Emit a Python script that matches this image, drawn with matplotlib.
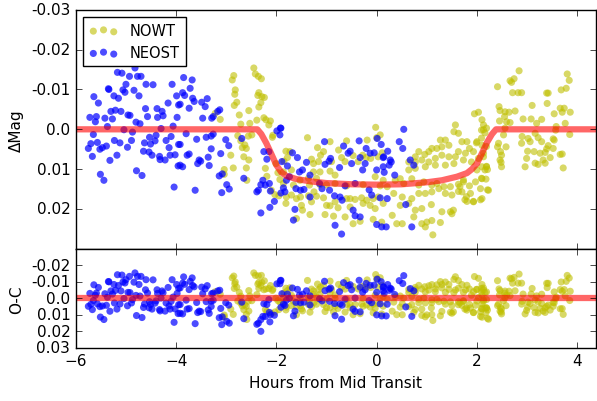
import numpy as np
import matplotlib
matplotlib.use('Agg')
import matplotlib.pyplot as plt

# Light curve points: (hours from mid transit, delta mag)
nowt = np.array([
    (-2.45, -0.0154), (-2.42, -0.0139), (-2.36, -0.0133), (-2.30, -0.0127), (-2.85, -0.0135), (-2.88, -0.0124),
    (-2.82, -0.0099), (-2.83, -0.0088), (-2.79, -0.0068), (-2.84, -0.0060), (-2.35, -0.0092), (-2.37, -0.0085),
    (-2.29, -0.0082), (-2.24, -0.0080), (-2.31, -0.0067), (-2.35, -0.0056), (-3.22, -0.0040), (-2.74, -0.0036),
    (-2.55, -0.0047), (-3.12, -0.0025), (-2.39, -0.0023), (-2.25, -0.0029), (-2.21, -0.0024), (-2.12, -0.0021),
    (-2.15, -0.0011), (-2.71, -0.0013), (-2.53, -0.0015), (-2.49, 0.0014), (-2.56, 0.0017), (-2.77, 0.0016),
    (-2.71, 0.0029), (-2.63, 0.0039), (-2.68, 0.0046), (-2.60, 0.0048), (-2.07, 0.0015), (-2.08, 0.0020),
    (-2.91, 0.0065), (-2.65, 0.0069), (-2.55, 0.0077), (-2.60, 0.0097), (-2.86, 0.0097), (-3.04, 0.0101),
    (-3.04, 0.0113), (-2.59, 0.0128), (-2.01, 0.0086), (-1.97, 0.0109), (-2.10, 0.0153), (-2.03, 0.0164),
    (-1.95, 0.0167), (-2.19, 0.0118), (-1.93, 0.0126), (-2.22, 0.0098),
    (-1.81, 0.0055), (-1.73, 0.0056), (-1.78, 0.0071), (-1.85, 0.0080), (-1.38, 0.0021), (-1.18, 0.0046),
    (-1.06, 0.0056), (-1.12, 0.0065), (-0.93, 0.0031), (-0.60, 0.0029), (-0.76, 0.0052), (-0.19, 0.0027),
    (-0.02, -0.0005), (0.00, 0.0021), (0.07, 0.0014), (-0.28, 0.0065), (-0.21, 0.0071), (-0.12, 0.0073),
    (0.03, 0.0069), (0.11, 0.0059), (-1.30, 0.0075), (-1.26, 0.0086), (-1.16, 0.0081), (-0.90, 0.0081),
    (-0.70, 0.0071), (-0.63, 0.0081), (-0.37, 0.0081), (-0.47, 0.0066), (-1.86, 0.0107), (-1.70, 0.0102),
    (-1.26, 0.0107), (-1.13, 0.0107), (-0.93, 0.0105), (-0.83, 0.0115), (-1.20, 0.0123), (-1.36, 0.0123),
    (-1.53, 0.0128), (-1.86, 0.0136), (-1.13, 0.0139), (-1.00, 0.0139), (-0.83, 0.0136), (-0.60, 0.0142),
    (-0.27, 0.0139), (-0.03, 0.0119), (0.13, 0.0128), (0.07, 0.0142), (-1.34, 0.0140), (-1.66, 0.0140),
    (-1.80, 0.0170), (-1.70, 0.0165), (-1.60, 0.0174), (-1.52, 0.0170), (-1.36, 0.0167), (-1.25, 0.0157),
    (-1.20, 0.0168), (-1.06, 0.0172), (-1.00, 0.0191), (-0.93, 0.0192), (-0.83, 0.0182), (-0.77, 0.0197),
    (-0.60, 0.0174), (-0.53, 0.0174), (-0.43, 0.0176), (-0.30, 0.0172), (-0.20, 0.0178), (-0.07, 0.0174),
    (0.03, 0.0170), (0.13, 0.0186), (-1.81, 0.0186), (-1.50, 0.0191), (-1.30, 0.0182), (-0.53, 0.0195),
    (-0.27, 0.0186), (-0.13, 0.0191), (-0.03, 0.0199), (-1.60, 0.0224), (-1.48, 0.0203), (-1.33, 0.0214),
    (-1.03, 0.0214), (-0.86, 0.0218), (-0.47, 0.0237), (-0.33, 0.0231), (-0.07, 0.0226), (0.10, 0.0233),
    (-0.63, 0.0220),
    (1.95, -0.0039), (2.03, -0.0043), (2.10, -0.0024), (2.13, -0.0011), (2.09, 0.0002), (1.57, -0.0011),
    (1.54, 0.0006), (1.63, 0.0010), (1.27, 0.0027), (1.37, 0.0027), (1.44, 0.0040), (1.30, 0.0044),
    (1.20, 0.0048), (1.10, 0.0048), (1.04, 0.0056), (0.96, 0.0063), (0.84, 0.0056), (0.77, 0.0069),
    (1.70, 0.0031), (1.80, 0.0031), (1.85, 0.0048), (2.00, 0.0031), (2.10, 0.0040), (1.93, 0.0056),
    (1.77, 0.0060), (1.63, 0.0056), (1.57, 0.0069), (1.44, 0.0069), (1.30, 0.0065), (1.17, 0.0073),
    (1.04, 0.0082), (0.90, 0.0077), (0.77, 0.0082), (0.64, 0.0082), (0.64, 0.0102), (0.77, 0.0098),
    (0.97, 0.0094), (1.17, 0.0090), (1.37, 0.0090), (1.54, 0.0086), (1.73, 0.0077), (1.89, 0.0082),
    (2.03, 0.0073), (2.13, 0.0069), (2.10, 0.0094), (2.00, 0.0102), (0.37, 0.0128), (0.47, 0.0124),
    (0.54, 0.0136), (0.70, 0.0124), (0.84, 0.0140), (0.94, 0.0132), (1.10, 0.0140), (1.20, 0.0136),
    (1.34, 0.0144), (1.47, 0.0144), (1.63, 0.0138), (1.73, 0.0132), (1.85, 0.0142), (1.97, 0.0132),
    (2.10, 0.0124), (2.07, 0.0149), (1.87, 0.0161), (1.70, 0.0157), (1.50, 0.0165), (1.37, 0.0161),
    (1.24, 0.0149), (1.10, 0.0157), (0.97, 0.0161), (0.84, 0.0161), (0.70, 0.0174), (0.51, 0.0170),
    (0.34, 0.0161), (0.21, 0.0144), (0.47, 0.0191), (0.64, 0.0186), (0.77, 0.0203), (0.90, 0.0199),
    (1.09, 0.0189), (1.30, 0.0207), (1.47, 0.0207), (1.80, 0.0181), (1.93, 0.0182), (2.10, 0.0174),
    (0.31, 0.0216), (0.40, 0.0237), (0.51, 0.0237), (0.74, 0.0220), (0.90, 0.0237), (1.00, 0.0233),
    (1.10, 0.0229), (0.97, 0.0245), (1.12, 0.0265), (1.50, 0.0212), (1.27, 0.0234),
    (2.84, -0.0147), (2.66, -0.0122), (2.74, -0.0127), (2.69, -0.0118), (2.41, -0.0107), (2.71, -0.0092),
    (2.82, -0.0092), (2.89, -0.0092), (3.39, -0.0091), (3.42, -0.0091), (3.80, -0.0139), (3.84, -0.0123),
    (3.78, -0.0103), (3.68, -0.0099), (3.40, -0.0065), (3.10, -0.0060), (2.44, -0.0057), (2.46, -0.0047),
    (2.56, -0.0044), (2.64, -0.0043), (2.76, -0.0046), (2.55, -0.0032), (2.45, -0.0021), (2.59, -0.0019),
    (2.66, -0.0017), (2.92, -0.0026), (3.08, -0.0026), (3.29, -0.0025), (3.19, -0.0015), (3.54, -0.0039),
    (3.66, -0.0053), (3.74, -0.0053), (3.70, -0.0043), (3.86, -0.0043), (3.76, -0.0015), (3.58, -0.0007),
    (3.57, 0.0002), (3.85, 0.0013), (2.19, -0.0003), (2.56, -0.0003), (2.53, 0.0014), (2.90, 0.0018),
    (3.02, 0.0023), (3.16, 0.0010), (3.22, 0.0021), (3.52, 0.0024), (2.89, 0.0035), (3.06, 0.0031),
    (3.29, 0.0031), (3.42, 0.0041), (3.54, 0.0027), (2.43, 0.0035), (2.41, 0.0044), (2.58, 0.0044),
    (3.01, 0.0055), (3.14, 0.0056), (3.26, 0.0060), (3.36, 0.0058), (3.39, 0.0049), (3.52, 0.0048),
    (3.66, 0.0063), (3.70, 0.0062), (3.46, 0.0071), (3.32, 0.0077), (3.36, 0.0085), (3.22, 0.0088),
    (3.16, 0.0085), (2.99, 0.0073), (2.96, 0.0094), (2.49, 0.0065), (2.46, 0.0077), (2.48, 0.0083),
    (2.49, 0.0094), (2.19, 0.0094), (2.21, 0.0101), (3.72, 0.0097), (2.23, 0.0153), (2.18, 0.0125),
    (2.13, 0.0001), (2.16, 0.0009), (2.09, 0.0022), (1.99, 0.0034), (2.19, 0.0043), (2.13, 0.0060),
    (2.19, 0.0093), (2.16, 0.0102), (2.09, 0.0123), (2.21, 0.0152), (2.07, 0.0177), (1.93, 0.0181),
    (1.76, 0.0177), (1.79, 0.0169), (1.63, 0.0156), (1.66, 0.0144), (1.73, 0.0127), (1.53, 0.0203),
    (2.47, 0.0056),
])

neost = np.array([
    (-4.82, -0.0154), (-5.17, -0.0143), (-5.08, -0.0141), (-4.93, -0.0133), (-4.77, -0.0133), (-4.70, -0.0133),
    (-4.08, -0.0113), (-4.60, -0.0113), (-4.46, -0.0112), (-5.35, -0.0102), (-5.34, -0.0100), (-5.06, -0.0099),
    (-5.00, -0.0113), (-5.02, -0.0093), (-4.84, -0.0098), (-4.74, -0.0084), (-5.24, -0.0084), (-5.15, -0.0078),
    (-5.64, -0.0082), (-5.55, -0.0066), (-3.99, -0.0084), (-4.16, -0.0066), (-3.95, -0.0061), (-4.61, -0.0052),
    (-4.38, -0.0052), (-4.28, -0.0045), (-5.30, -0.0045), (-5.21, -0.0048), (-5.10, -0.0045), (-4.96, -0.0036),
    (-4.92, -0.0035), (-5.72, -0.0030), (-5.59, -0.0032), (-5.61, -0.0019), (-5.42, -0.0028), (-5.27, -0.0026),
    (-4.57, -0.0032), (-4.37, -0.0030), (-4.26, -0.0034), (-3.98, -0.0030), (-4.80, -0.0018), (-4.72, -0.0014),
    (-5.37, -0.0007), (-4.06, -0.0008), (-5.04, 0.0001), (-4.30, -0.0002), (-4.87, 0.0007), (-5.65, 0.0013),
    (-4.53, 0.0020), (-4.40, 0.0015), (-4.42, 0.0029), (-4.20, 0.0028), (-4.10, 0.0018), (-5.70, 0.0036),
    (-5.57, 0.0033), (-5.23, 0.0028), (-5.12, 0.0034), (-4.89, 0.0028), (-4.63, 0.0034), (-4.51, 0.0037),
    (-5.75, 0.0048), (-5.52, 0.0050), (-5.47, 0.0046), (-5.39, 0.0042), (-4.97, 0.0045), (-4.14, 0.0046),
    (-3.95, 0.0038), (-5.67, 0.0068), (-5.32, 0.0078), (-5.18, 0.0065), (-4.65, 0.0055), (-4.54, 0.0057),
    (-4.48, 0.0065), (-4.33, 0.0068), (-4.32, 0.0076), (-4.22, 0.0077), (-4.12, 0.0065), (-4.02, 0.0064),
    (-3.96, 0.0092), (-4.79, 0.0104), (-4.68, 0.0116), (-5.51, 0.0113), (-5.44, 0.0128), (-4.04, 0.0145),
    (-3.85, -0.0130), (-3.68, -0.0124), (-3.72, -0.0103), (-3.87, -0.0092), (-3.83, -0.0085), (-3.67, -0.0078),
    (-3.64, -0.0070), (-3.92, -0.0063), (-3.74, -0.0053), (-3.49, -0.0068), (-3.38, -0.0077), (-3.42, -0.0057),
    (-3.13, -0.0049), (-3.17, -0.0045), (-3.26, -0.0032), (-3.29, -0.0028), (-3.47, -0.0028), (-1.92, -0.0003),
    (-1.99, 0.0004), (-3.80, 0.0011), (-3.59, 0.0025), (-3.40, 0.0020), (-3.30, 0.0017), (-3.26, 0.0012),
    (-3.01, 0.0026), (-2.95, 0.0041), (-2.69, 0.0023), (-3.92, 0.0038), (-3.30, 0.0049), (-3.11, 0.0061),
    (-3.74, 0.0062), (-3.78, 0.0065), (-3.36, 0.0070), (-3.54, 0.0077), (-3.57, 0.0086), (-3.51, 0.0080),
    (-3.34, 0.0091), (-3.92, 0.0090), (-3.87, 0.0094), (-2.65, 0.0123), (-3.14, 0.0117), (-3.08, 0.0112),
    (-2.99, 0.0139), (-2.94, 0.0150), (-3.09, 0.0159), (-3.62, 0.0153), (-2.25, 0.0056), (-2.19, 0.0075),
    (-2.15, 0.0056), (-2.27, 0.0128), (-2.31, 0.0139), (-2.22, 0.0140), (-2.14, 0.0136), (-2.36, 0.0153),
    (-2.39, 0.0157), (-2.12, 0.0155), (-2.04, 0.0181), (-2.13, 0.0196), (-2.31, 0.0210), (-1.91, 0.0160),
    (-1.91, -0.0003), (-1.93, 0.0014), (-1.04, 0.0031), (-0.66, 0.0042), (-0.35, 0.0029), (-0.21, 0.0048),
    (0.01, 0.0023), (0.09, 0.0038), (-1.68, 0.0059), (-1.58, 0.0071), (-1.89, 0.0081), (-0.92, 0.0073),
    (-0.95, 0.0080), (-1.03, 0.0088), (-0.53, 0.0055), (-0.57, 0.0060), (-0.33, 0.0071), (-0.50, 0.0086),
    (-0.13, 0.0060), (-0.05, 0.0059), (0.13, 0.0071), (-1.78, 0.0092), (-1.40, 0.0083), (-1.48, 0.0102),
    (-1.54, 0.0107), (-1.33, 0.0115), (-0.74, 0.0096), (-0.28, 0.0102), (-0.23, 0.0086), (-0.00, 0.0102),
    (0.13, 0.0094), (-1.74, 0.0119), (-1.80, 0.0128), (-1.52, 0.0153), (-1.61, 0.0149), (-1.45, 0.0151),
    (-1.09, 0.0149), (-1.14, 0.0136), (-0.94, 0.0153), (-0.63, 0.0142), (-0.43, 0.0136), (-0.15, 0.0152),
    (-1.86, 0.0147), (-1.83, 0.0157), (-0.73, 0.0170), (-1.33, 0.0170), (0.07, 0.0172), (-0.10, 0.0165),
    (-0.84, 0.0167), (-0.69, 0.0178), (-1.63, 0.0201), (-1.66, 0.0228), (-0.47, 0.0203), (-0.43, 0.0217),
    (-0.33, 0.0220), (-0.83, 0.0241), (-0.70, 0.0263), (-0.00, 0.0239), (0.10, 0.0245),
    (0.54, -0.0000), (0.45, 0.0031), (0.52, 0.0048), (0.22, 0.0055), (0.14, 0.0069), (0.27, 0.0077),
    (0.29, 0.0082), (0.25, 0.0090), (0.67, 0.0077), (0.74, 0.0090), (0.15, 0.0108), (0.36, 0.0115),
    (0.21, 0.0174), (0.58, 0.0189), (0.19, 0.0245), (0.70, 0.0245),
])

# transit model curve, read at these times
model_t = [-6.0, -2.38, -2.3, -2.2, -2.1, -2.0, -1.9, -1.8, -1.6, -1.3, -1.0, -0.5, 0.0,
           0.5, 1.0, 1.3, 1.6, 1.8, 1.9, 2.0, 2.1, 2.2, 2.3, 2.38, 4.4]
model_mag = [0.0, 0.0, 0.0012, 0.0035, 0.0062, 0.0090, 0.0108, 0.0117, 0.0125, 0.0131, 0.0135, 0.0138, 0.0139,
             0.0138, 0.0133, 0.0128, 0.0119, 0.0110, 0.0100, 0.0086, 0.0060, 0.0033, 0.0012, 0.0, 0.0]

# observed minus model
nowt_oc = nowt[:, 1] - np.interp(nowt[:, 0], model_t, model_mag)
neost_oc = neost[:, 1] - np.interp(neost[:, 0], model_t, model_mag)

plt.style.use('classic')
plt.rcParams['font.size'] = 11
plt.rcParams['legend.fontsize'] = 10.5

fig, (ax1, ax2) = plt.subplots(2, 1, sharex=True, figsize=(5.97, 4.02), dpi=100,
                               gridspec_kw={'height_ratios': [2.41, 1], 'hspace': 0})
fig.patch.set_facecolor('white')
fig.subplots_adjust(left=0.127, right=0.998, top=0.973, bottom=0.132)

ax1.scatter(nowt[:, 0], nowt[:, 1], s=26, c='y', alpha=0.6, edgecolors='none', label='NOWT')
ax1.scatter(neost[:, 0], neost[:, 1], s=26, c='b', alpha=0.7, edgecolors='none', label='NEOST')
ax1.plot(model_t, model_mag, color='r', lw=4.5, alpha=0.6)
ax1.set_ylim(0.03, -0.03)
ax1.set_yticks([-0.03, -0.02, -0.01, 0.0, 0.01, 0.02])
ax1.set_yticklabels(['-0.03', '-0.02', '-0.01', '0.0', '0.01', '0.02'])
ax1.set_ylabel('ΔMag')
ax1.yaxis.set_label_coords(-0.10, 0.5)
ax1.legend(loc='upper left', scatterpoints=3, frameon=True)

ax2.scatter(nowt[:, 0], nowt_oc, s=26, c='y', alpha=0.6, edgecolors='none')
ax2.scatter(neost[:, 0], neost_oc, s=26, c='b', alpha=0.7, edgecolors='none')
ax2.plot([-6, 4.4], [0, 0], color='r', lw=4.5, alpha=0.6)
ax2.set_ylim(0.03, -0.03)
ax2.set_yticks([-0.02, -0.01, 0.0, 0.01, 0.02, 0.03])
ax2.set_yticklabels(['-0.02', '-0.01', '0.0', '0.01', '0.02', '0.03'])
ax2.set_ylabel('O-C')
ax2.yaxis.set_label_coords(-0.10, 0.5)

ax2.set_xlim(-6, 4.37)
ax2.set_xticks([-6, -4, -2, 0, 2, 4])
ax2.set_xlabel('Hours from Mid Transit')

fig.savefig('out.png', dpi=100, facecolor='white')
